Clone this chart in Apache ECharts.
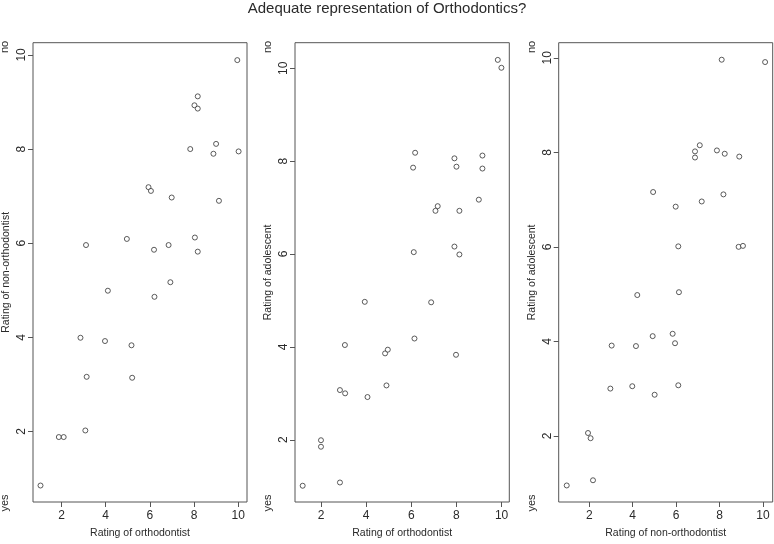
<!DOCTYPE html>
<html>
<head>
<meta charset="utf-8">
<script src="https://cdn.jsdelivr.net/npm/echarts@6/dist/echarts.min.js"></script>
<style>html,body{margin:0;padding:0;background:#fff}#c{width:774px;height:544px}</style>
</head>
<body>
<div id="c"></div>
<script>
const title = "Adequate representation of Orthodontics?";
const tickValues = [2, 4, 6, 8, 10];
const yesLabel = "yes";
const noLabel = "no";

// Panel 1: orthodontist (x) vs non-orthodontist (y)
const p1Ortho = [9.96,8.17,8.02,8.17,7.83,9.00,8.88,10.02,5.94,6.05,6.99,9.13,3.11,4.96,6.19,6.85,8.04,8.17,4.10,6.21,6.93,2.86,3.97,5.17,3.14,5.20,3.08,1.88,2.10,1.05];
const p1NonOrtho = [9.89,9.12,8.93,8.86,8.00,8.11,7.90,7.95,7.19,7.11,6.97,6.90,5.96,6.09,5.86,5.96,6.12,5.82,4.99,4.86,5.17,3.99,3.92,3.83,3.16,3.14,2.02,1.88,1.88,0.85];

// Panel 2: orthodontist (x) vs adolescent (y)
const p2Ortho = [9.83,9.99,6.17,6.08,7.91,8.00,9.15,9.15,8.99,7.07,7.17,8.13,6.11,7.91,8.13,3.94,6.88,3.06,6.14,4.84,4.96,7.98,2.84,3.07,4.90,4.06,2.00,2.00,1.19,2.84];
const p2Adol = [10.18,10.01,8.18,7.86,8.06,7.88,8.12,7.84,7.17,6.93,7.03,6.93,6.04,6.16,5.99,4.97,4.96,4.04,4.18,3.86,3.94,3.83,3.07,3.00,3.17,2.92,1.99,1.85,1.01,1.08];

// Panel 3: non-orthodontist (x) vs adolescent (y)
const p3NonOrtho = [8.10,10.10,7.09,6.87,6.87,7.88,8.24,8.91,4.94,8.18,7.18,5.98,6.10,8.88,9.08,4.21,6.13,4.92,5.84,5.95,3.03,4.15,2.97,3.98,6.10,5.01,1.94,2.06,2.17,0.96];
const p3Adol = [9.96,9.91,8.15,8.02,7.89,8.04,7.97,7.91,7.16,7.11,6.96,6.85,6.01,6.00,6.02,4.98,5.04,4.11,4.16,3.96,3.91,3.90,3.00,3.05,3.07,2.87,2.06,1.95,1.06,0.95];

const xNames = ["Rating of orthodontist", "Rating of orthodontist", "Rating of non-orthodontist"];
const yNames = ["Rating of non-orthodontist", "Rating of adolescent", "Rating of adolescent"];

const FONT = "Liberation Sans, Arial, sans-serif";
const TXT = "#2a2a2a";
const BOX = "#555";

const panels = [
  {grid:{left:31.7, top:42.7, width:215.3, height:468}, xr:[0.71,10.40], yr:[0.50,10.26], xs:p1Ortho, ys:p1NonOrtho, labX:5},
  {grid:{left:295, top:42.7, width:214.3, height:468}, xr:[0.85,10.34], yr:[0.66,10.55], xs:p2Ortho, ys:p2Adol, labX:268},
  {grid:{left:558.7, top:42.7, width:214, height:468}, xr:[0.59,10.45], yr:[0.60,10.32], xs:p3NonOrtho, ys:p3Adol, labX:531.7}
];

const grids = [], xAxes = [], yAxes = [], series = [], graphics = [];
panels.forEach((p, i) => {
  grids.push(Object.assign({show:true, borderColor:BOX, borderWidth:1, backgroundColor:'transparent'}, p.grid));
  xAxes.push({
    type:'value', gridIndex:i, min:p.xr[0], max:p.xr[1],
    name:xNames[i], nameLocation:'middle', nameGap:26,
    nameTextStyle:{fontFamily:FONT, fontSize:10.5, color:TXT},
    axisLine:{show:false},
    axisTick:{show:true, customValues:tickValues, length:5, lineStyle:{color:BOX}},
    axisLabel:{customValues:tickValues, fontFamily:FONT, fontSize:12, color:TXT, margin:8},
    splitLine:{show:false}
  });
  yAxes.push({
    type:'value', gridIndex:i, min:p.yr[0], max:p.yr[1],
    name:yNames[i], nameLocation:'middle', nameGap:21,
    nameTextStyle:{fontFamily:FONT, fontSize:10.5, color:TXT},
    axisLine:{show:false},
    axisTick:{show:true, customValues:tickValues, length:5, lineStyle:{color:BOX}},
    axisLabel:{customValues:tickValues, rotate:90, fontFamily:FONT, fontSize:12, color:TXT, margin:5},
    splitLine:{show:false}
  });
  series.push({
    type:'scatter', xAxisIndex:i, yAxisIndex:i,
    data:p.xs.map((x, k) => [x, p.ys[k]]),
    symbol:'circle', symbolSize:5,
    itemStyle:{color:'#fff', borderColor:'#333', borderWidth:1},
    emphasis:{disabled:true}
  });
  [[noLabel, 47], [yesLabel, 503]].forEach(([t, y]) => {
    graphics.push({type:'text', x:p.labX, y:y, rotation:Math.PI/2,
      style:{text:t, font:'11px ' + FONT, fill:TXT, align:'center', verticalAlign:'middle'}});
  });
});

const chart = echarts.init(document.getElementById('c'), null, {renderer:'canvas'});
chart.setOption({
  animation:false,
  backgroundColor:'#fff',
  title:{text:title, left:'center', top:1, padding:0, textStyle:{fontFamily:FONT, fontSize:15, fontWeight:'normal', color:TXT}},
  grid:grids, xAxis:xAxes, yAxis:yAxes, series:series, graphic:graphics
});
</script>
</body>
</html>
